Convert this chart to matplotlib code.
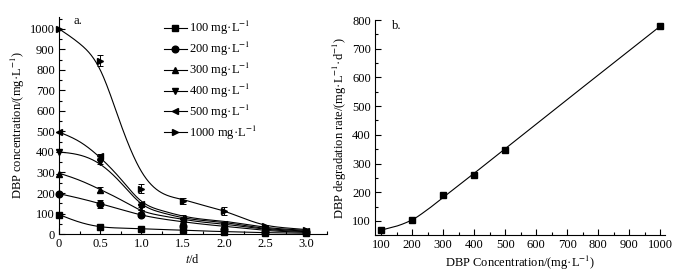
import numpy as np
import matplotlib
matplotlib.use("Agg")
import matplotlib.pyplot as plt
from matplotlib.ticker import MultipleLocator, FuncFormatter

plt.rcParams['font.family'] = ['Liberation Serif', 'DejaVu Serif']
plt.rcParams['mathtext.fontset'] = 'stix'
plt.rcParams['font.size'] = 9

# ---------------- data: panel a ----------------
t_days = [0, 0.5, 1.0, 1.5, 2.0, 2.5, 3.0]
labels_a = ['100 mg·L$^{-1}$', '200 mg·L$^{-1}$', '300 mg·L$^{-1}$',
            '400 mg·L$^{-1}$', '500 mg·L$^{-1}$', '1000 mg·L$^{-1}$']
markers_a = ['s', 'o', '^', 'v', '<', '>']

c100 = [95, 35, 26, 18, 10, 5, 3]
c200 = [195, 148, 95, 40, 25, 12, 8]
c300 = [295, 215, 105, 50, 30, 15, 10]
c400 = [400, 350, 130, 62, 38, 18, 12]
c500 = [495, 380, 145, 75, 50, 25, 15]
c1000 = [1000, 845, 220, 162, 112, 38, 20]

e100 = [0, 5, 4, 4, 3, 2, 2]
e200 = [0, 20, 10, 8, 6, 4, 3]
e300 = [0, 12, 10, 8, 6, 4, 3]
e400 = [0, 10, 12, 10, 8, 5, 3]
e500 = [0, 10, 12, 20, 10, 6, 4]
e1000 = [0, 28, 22, 15, 20, 6, 6]

# fitted curve values
t_fit = [0, 0.25, 0.5, 0.75, 1.0, 1.25, 1.5, 1.75, 2.0, 2.25, 2.5, 2.75, 3.0]
f100 = [95, 58, 36, 29, 26, 22, 19, 15, 12, 9, 7, 5, 4]
f200 = [197, 174, 148, 120, 93, 74, 60, 48, 38, 28, 18, 12, 8]
f300 = [297, 262, 217, 167, 115, 89, 72, 58, 48, 36, 24, 16, 12]
f400 = [400, 385, 340, 250, 148, 104, 80, 66, 56, 42, 28, 20, 14]
f500 = [497, 450, 372, 268, 160, 114, 88, 72, 62, 48, 33, 24, 18]
f1000 = [1000, 928, 800, 535, 305, 200, 168, 140, 112, 75, 44, 30, 22]

# ---------------- data: panel b ----------------
conc_b = [100, 200, 300, 400, 500, 1000]
rate_b = [68, 102, 190, 260, 348, 778]
# fitted curve nodes
conc_fit = [100, 150, 200, 250, 300, 400, 500, 1000]
rate_fit = [68, 82, 104, 140, 182, 266, 352, 778]


def pchip(x, y, xn):
    x = np.asarray(x, float); y = np.asarray(y, float)
    h = np.diff(x); d = np.diff(y) / h
    m = np.zeros_like(y)
    for k in range(1, len(x) - 1):
        if d[k - 1] * d[k] > 0:
            w1 = 2 * h[k] + h[k - 1]; w2 = h[k] + 2 * h[k - 1]
            m[k] = (w1 + w2) / (w1 / d[k - 1] + w2 / d[k])
    m[0] = d[0]; m[-1] = d[-1]
    idx = np.clip(np.searchsorted(x, xn) - 1, 0, len(x) - 2)
    hh = h[idx]; s = (xn - x[idx]) / hh
    h00 = 2 * s**3 - 3 * s**2 + 1; h10 = s**3 - 2 * s**2 + s
    h01 = -2 * s**3 + 3 * s**2; h11 = s**3 - s**2
    return h00 * y[idx] + h10 * hh * m[idx] + h01 * y[idx + 1] + h11 * hh * m[idx + 1]


def spline(x, y, xn):
    x = np.asarray(x, float); y = np.asarray(y, float)
    n = len(x); h = np.diff(x)
    A = np.zeros((n, n)); r = np.zeros(n)
    A[0, 0] = 1; A[-1, -1] = 1
    for i in range(1, n - 1):
        A[i, i - 1] = h[i - 1]; A[i, i] = 2 * (h[i - 1] + h[i]); A[i, i + 1] = h[i]
        r[i] = 3 * ((y[i + 1] - y[i]) / h[i] - (y[i] - y[i - 1]) / h[i - 1])
    c = np.linalg.solve(A, r)
    b = (y[1:] - y[:-1]) / h - h * (2 * c[:-1] + c[1:]) / 3
    d = (c[1:] - c[:-1]) / (3 * h)
    idx = np.clip(np.searchsorted(x, xn) - 1, 0, n - 2)
    dx = xn - x[idx]
    return y[idx] + b[idx] * dx + c[idx] * dx**2 + d[idx] * dx**3


fig = plt.figure(figsize=(6.81, 2.76), dpi=100)
axa = fig.add_axes([0.0866, 0.152, 0.3934, 0.786])
axb = fig.add_axes([0.5507, 0.1475, 0.4258, 0.78])

series = [(c100, e100, f100), (c200, e200, f200), (c300, e300, f300),
          (c400, e400, f400), (c500, e500, f500), (c1000, e1000, f1000)]
tt = np.linspace(0, 3.0, 400)
handles = []
for (c, e, f), mk, lab in zip(series, markers_a, labels_a):
    axa.plot(tt, spline(t_fit, f, tt), color='black', lw=0.8)
    axa.errorbar(t_days, c, yerr=e, fmt=mk, color='black', ms=4.8,
                 elinewidth=0.7, capsize=2, capthick=0.7, clip_on=False, zorder=3)
    h, = axa.plot([], [], color='black', marker=mk, ms=4.8, lw=0.8)
    handles.append(h)

axa.set_xlim(0, 3.25)
axa.set_ylim(0, 1057)
axa.xaxis.set_major_locator(MultipleLocator(0.5))
axa.xaxis.set_minor_locator(MultipleLocator(0.25))
axa.yaxis.set_major_locator(MultipleLocator(100))
axa.yaxis.set_minor_locator(MultipleLocator(50))
axa.xaxis.set_major_formatter(FuncFormatter(lambda v, p: '0' if abs(v) < 1e-9 else f'{v:.1f}'))
axa.set_xlabel('$t$/d', labelpad=2)
axa.set_ylabel('DBP concentration/(mg·L$^{-1}$)', labelpad=2)
axa.text(0.055, 1.01, 'a.', transform=axa.transAxes, va='top', ha='left')
axa.legend(handles, labels_a, loc='upper left', bbox_to_anchor=(0.36, 1.03),
           frameon=False, handlelength=1.8, handletextpad=0.2, labelspacing=0.22,
           borderpad=0.2)

xx = np.linspace(100, 1000, 400)
axb.plot(xx, pchip(conc_fit, rate_fit, xx), color='black', lw=0.8)
axb.plot(conc_b, rate_b, 's', color='black', ms=4.8, clip_on=False, zorder=3)
axb.set_xlim(80, 1016)
axb.set_ylim(50, 800)
axb.xaxis.set_major_locator(MultipleLocator(100))
axb.xaxis.set_minor_locator(MultipleLocator(50))
axb.yaxis.set_major_locator(MultipleLocator(100))
axb.yaxis.set_minor_locator(MultipleLocator(50))
axb.set_xlabel('DBP Concentration/(mg·L$^{-1}$)', labelpad=2)
axb.set_ylabel('DBP degradation rate/(mg·L$^{-1}$·d$^{-1}$)', labelpad=2)
axb.text(0.06, 1.0, 'b.', transform=axb.transAxes, va='top', ha='left')

for ax in (axa, axb):
    ax.spines['top'].set_visible(False)
    ax.spines['right'].set_visible(False)
    for s in ('left', 'bottom'):
        ax.spines[s].set_linewidth(0.8)
    ax.tick_params(which='both', direction='in', width=0.8, pad=3)
    ax.tick_params(which='major', length=4)
    ax.tick_params(which='minor', length=2.5)

fig.savefig('out.png', dpi=100)
